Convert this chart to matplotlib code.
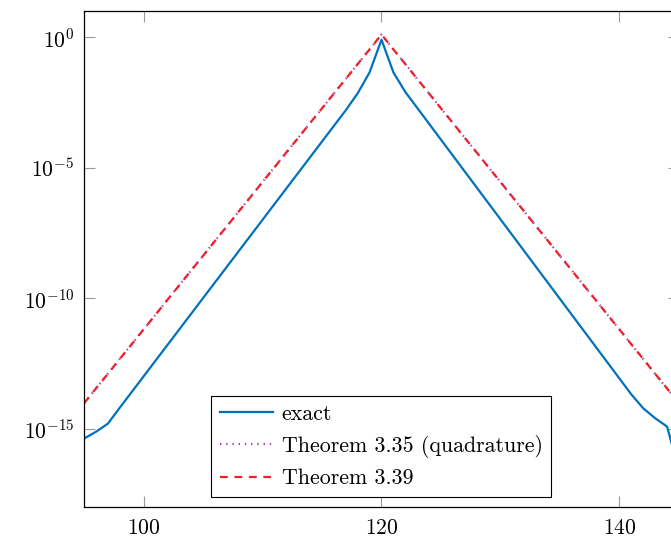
import matplotlib
matplotlib.use('Agg')
import matplotlib.pyplot as plt
import numpy as np
from matplotlib.ticker import NullLocator, FixedLocator

plt.rcParams['font.family'] = 'serif'
plt.rcParams['font.serif'] = ['cmr10']
plt.rcParams['mathtext.fontset'] = 'cm'
plt.rcParams['axes.formatter.use_mathtext'] = True

# sample index (integer grid)
n = list(range(95, 146))

# log10 of the absolute values
exact_log = [-15.38, -15.12, -14.81, -14.2, -13.6, -13.0, -12.4, -11.8, -11.2,
             -10.6, -10.0, -9.4, -8.8, -8.2, -7.6, -7.0, -6.4, -5.8, -5.2,
             -4.6, -4.0, -3.4, -2.8, -2.15, -1.35, -0.1,
             -1.35, -2.1, -2.71, -3.32, -3.93, -4.54, -5.15, -5.76, -6.37,
             -6.98, -7.59, -8.2, -8.81, -9.42, -10.03, -10.64, -11.25,
             -11.86, -12.47, -13.08, -13.69, -14.22, -14.6, -14.92, -16.6]

quad_log = [-14.03, -13.46, -12.9, -12.33, -11.77, -11.2, -10.64, -10.07,
            -9.51, -8.94, -8.38, -7.81, -7.25, -6.68, -6.12, -5.55, -4.99,
            -4.42, -3.86, -3.29, -2.73, -2.16, -1.6, -1.03, -0.47, 0.1,
            -0.47, -1.03, -1.6, -2.16, -2.73, -3.29, -3.86, -4.42, -4.99,
            -5.55, -6.12, -6.68, -7.25, -7.81, -8.38, -8.94, -9.51, -10.07,
            -10.64, -11.2, -11.77, -12.33, -12.9, -13.46, -14.03]

thm39_log = [-14.03, -13.46, -12.9, -12.33, -11.77, -11.2, -10.64, -10.07,
             -9.51, -8.94, -8.38, -7.81, -7.25, -6.68, -6.12, -5.55, -4.99,
             -4.42, -3.86, -3.29, -2.73, -2.16, -1.6, -1.03, -0.47, 0.1,
             -0.47, -1.03, -1.6, -2.16, -2.73, -3.29, -3.86, -4.42, -4.99,
             -5.55, -6.12, -6.68, -7.25, -7.81, -8.38, -8.94, -9.51, -10.07,
             -10.64, -11.2, -11.77, -12.33, -12.9, -13.46, -14.03]

fig = plt.figure(figsize=(6.71, 5.4), dpi=100)
ax = fig.add_axes([0.1252, 0.0611, 0.8867, 0.9185])

ax.plot(n, 10.0 ** np.array(exact_log), color='#0072BD', lw=1.6,
        label='exact')
ax.plot(n, 10.0 ** np.array(quad_log), color='#9B3FA8', lw=1.6,
        linestyle=(0, (0.6, 2.2)), label='Theorem 3.35 (quadrature)')
ax.plot(n, 10.0 ** np.array(thm39_log), color='#F0202A', lw=1.6,
        linestyle=(0, (3.5, 3)), label='Theorem 3.39')

ax.set_yscale('log')
ax.set_xlim(95, 145)
ax.set_ylim(1e-18, 1e1)
ax.xaxis.set_major_locator(FixedLocator([100, 120, 140]))
ax.yaxis.set_major_locator(FixedLocator([1e-15, 1e-10, 1e-5, 1e0]))
ax.yaxis.set_minor_locator(NullLocator())

ax.tick_params(direction='in', length=8, width=0.8, color='#999999',
               top=True, right=True, labelsize=15.5)
ax.tick_params(axis='y', pad=7)
ax.tick_params(axis='x', pad=8)
for sp in ax.spines.values():
    sp.set_linewidth(0.9)

leg = ax.legend(loc='lower center', bbox_to_anchor=(0.5, 0.02),
                borderaxespad=0, fontsize=15.8, fancybox=False,
                framealpha=1, edgecolor='black', handlelength=2.4,
                borderpad=0.4, labelspacing=0.5, handletextpad=0.4)
leg.get_frame().set_linewidth(0.8)

fig.savefig('out.png', dpi=100)
